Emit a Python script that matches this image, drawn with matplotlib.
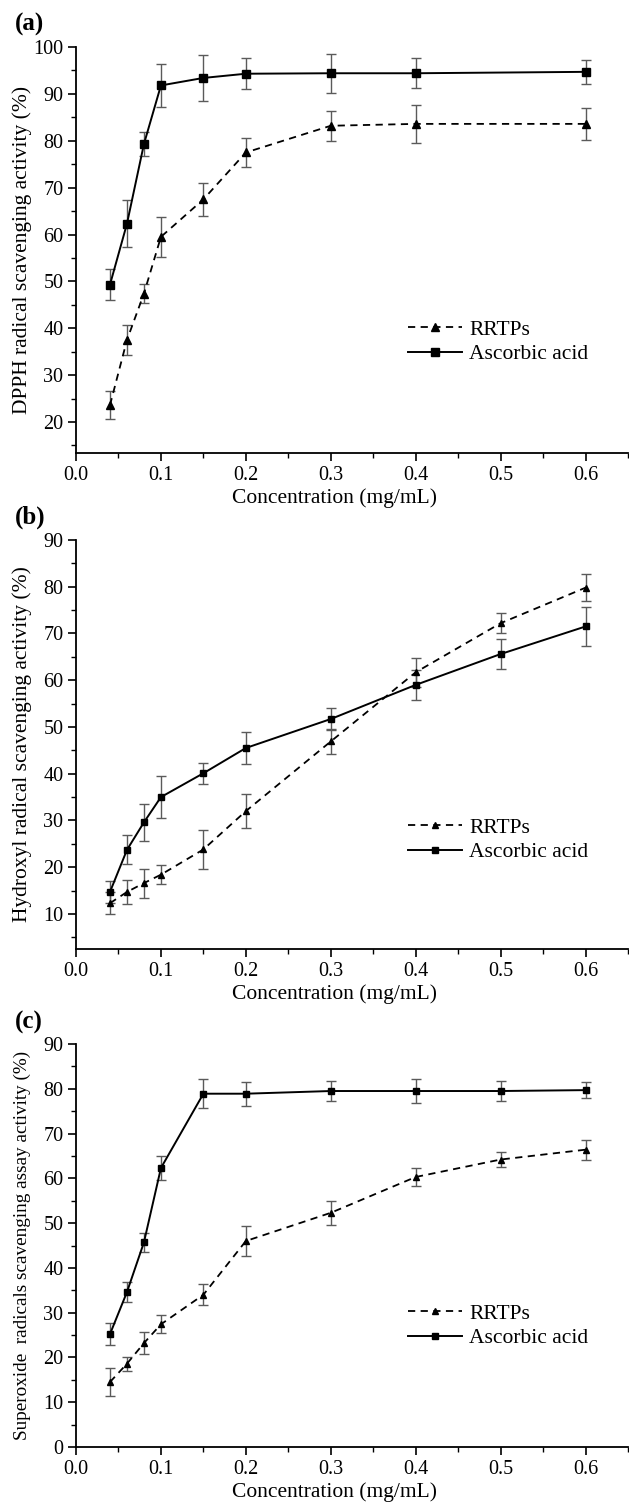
import matplotlib
matplotlib.use("Agg")
import matplotlib.pyplot as plt
from matplotlib.ticker import MultipleLocator
from matplotlib.lines import Line2D

plt.rcParams['font.family'] = ['Liberation Serif', 'DejaVu Serif']

# ---- data ----
x_a = [0.04, 0.06, 0.08, 0.1, 0.15, 0.2, 0.3, 0.4, 0.6]
a_rrtps = [23.6, 37.5, 47.4, 59.5, 67.5, 77.5, 83.2, 83.6, 83.6]
a_rrtps_err = [3.0, 3.1, 2.1, 4.3, 3.5, 3.0, 3.2, 4.0, 3.4]
a_asc = [49.3, 62.3, 79.3, 91.8, 93.4, 94.3, 94.4, 94.4, 94.7]
a_asc_err = [3.3, 5.0, 2.5, 4.5, 5.0, 3.3, 4.2, 3.2, 2.6]

x_b = [0.04, 0.06, 0.08, 0.1, 0.15, 0.2, 0.3, 0.4, 0.5, 0.6]
b_rrtps = [12.3, 14.7, 16.6, 18.4, 23.8, 32.0, 46.9, 61.7, 72.2, 79.8]
b_rrtps_err = [2.3, 2.6, 3.1, 2.1, 4.1, 3.6, 2.6, 3.1, 2.2, 2.9]
b_asc = [14.7, 23.7, 29.6, 35.0, 40.1, 45.5, 51.7, 59.0, 65.6, 71.5]
b_asc_err = [2.4, 3.1, 4.0, 4.5, 2.2, 3.5, 2.3, 3.2, 3.2, 4.1]

x_c = [0.04, 0.06, 0.08, 0.1, 0.15, 0.2, 0.3, 0.4, 0.5, 0.6]
c_rrtps = [14.5, 18.6, 23.2, 27.4, 34.0, 46.0, 52.3, 60.3, 64.2, 66.4]
c_rrtps_err = [3.1, 1.6, 2.5, 2.0, 2.3, 3.3, 2.7, 2.1, 1.7, 2.2]
c_asc = [25.2, 34.6, 45.7, 62.3, 78.9, 78.9, 79.5, 79.5, 79.5, 79.7]
c_asc_err = [2.5, 2.2, 2.1, 2.6, 3.3, 2.7, 2.2, 2.6, 2.2, 1.8]

series_labels = ["RRTPs", "Ascorbic acid"]
xlabel = "Concentration (mg/mL)"
ylabels = ["DPPH radical scavenging activity (%)",
           "Hydroxyl radical scavenging activity (%)",
           "Superoxide  radicals scavenging assay activity (%)"]
panel_tags = ["(a)", "(b)", "(c)"]
xtick_vals = [0, 0.1, 0.2, 0.3, 0.4, 0.5, 0.6]
xtick_labels = ["0.0", "0.1", "0.2", "0.3", "0.4", "0.5", "0.6"]

W, H = 629, 1511
fig = plt.figure(figsize=(W / 100, H / 100), dpi=100)

LEFT, RIGHT = 76, 628

def px_axes(top, bottom, left=LEFT, right=RIGHT):
    return [left / W, 1 - bottom / H, (right - left) / W, (bottom - top) / H]

panels = [
    dict(top=47, bottom=453, x=x_a, r=a_rrtps, re=a_rrtps_err, s=a_asc, se=a_asc_err,
         ylim=(13.4, 100), ms=5.5, ylfs=15.5, leg_y=342, tag_y=24),
    dict(top=540, bottom=949, x=x_b, r=b_rrtps, re=b_rrtps_err, s=b_asc, se=b_asc_err,
         ylim=(2.5, 90), ms=4.5, ylfs=15.5, leg_y=840, tag_y=517),
    dict(top=1044, bottom=1447, x=x_c, r=c_rrtps, re=c_rrtps_err, s=c_asc, se=c_asc_err,
         ylim=(0, 90), ms=4.5, ylfs=13.8, leg_y=1326, tag_y=1022),
]

err_color = "#5a5a5a"
dash = (0, (4, 3))
for i, p in enumerate(panels):
    ax = fig.add_axes(px_axes(p["top"], p["bottom"]))
    ax.errorbar(p["x"], p["r"], yerr=p["re"], color="black", ls=dash, lw=1.3,
                marker="^", ms=p["ms"] + 0.5, ecolor=err_color, elinewidth=1.0,
                capsize=3.5, capthick=1.0)
    ax.errorbar(p["x"], p["s"], yerr=p["se"], color="black", ls="-", lw=1.4,
                marker="s", ms=p["ms"], ecolor=err_color, elinewidth=1.0,
                capsize=3.5, capthick=1.0)
    ax.set_xlim(0, 0.65)
    ax.set_ylim(*p["ylim"])
    ax.set_xticks(xtick_vals)
    ax.set_xticklabels(xtick_labels)
    ax.xaxis.set_minor_locator(MultipleLocator(0.05))
    ax.yaxis.set_major_locator(MultipleLocator(10))
    ax.yaxis.set_minor_locator(MultipleLocator(5))
    for s in ["top", "right"]:
        ax.spines[s].set_visible(False)
    for s in ["left", "bottom"]:
        ax.spines[s].set_linewidth(1.3)
    ax.tick_params(which="major", direction="out", length=6, width=1.2, labelsize=14.5, pad=3)
    ax.tick_params(which="minor", direction="out", length=3.5, width=1.0)
    ax.set_xlabel(xlabel, fontsize=15.5)
    ax.set_ylabel(ylabels[i], fontsize=p["ylfs"])
    hpx = p["bottom"] - p["top"]
    ax.xaxis.set_label_coords((335 - LEFT) / (RIGHT - LEFT), -45 / hpx)
    ax.yaxis.set_label_coords((22 - LEFT) / (RIGHT - LEFT), 0.5)
    ax.xaxis.label.set_va("center")
    ax.yaxis.label.set_va("center")
    handles = [Line2D([], [], color="black", ls=dash, lw=1.3, marker="^", ms=p["ms"] + 0.5),
               Line2D([], [], color="black", ls="-", lw=1.4, marker="s", ms=p["ms"])]
    ax.legend(handles, series_labels, loc="center left", frameon=False,
              bbox_to_anchor=(408 / W, 1 - p["leg_y"] / H),
              bbox_transform=fig.transFigure, fontsize=15.5,
              handlelength=2.5, handletextpad=0.35, labelspacing=0.2,
              borderpad=0, borderaxespad=0)
    fig.text(15 / W, 1 - p["tag_y"] / H, panel_tags[i], fontsize=18, fontweight="bold",
             ha="left", va="center")

fig.savefig("out.png", dpi=100)
